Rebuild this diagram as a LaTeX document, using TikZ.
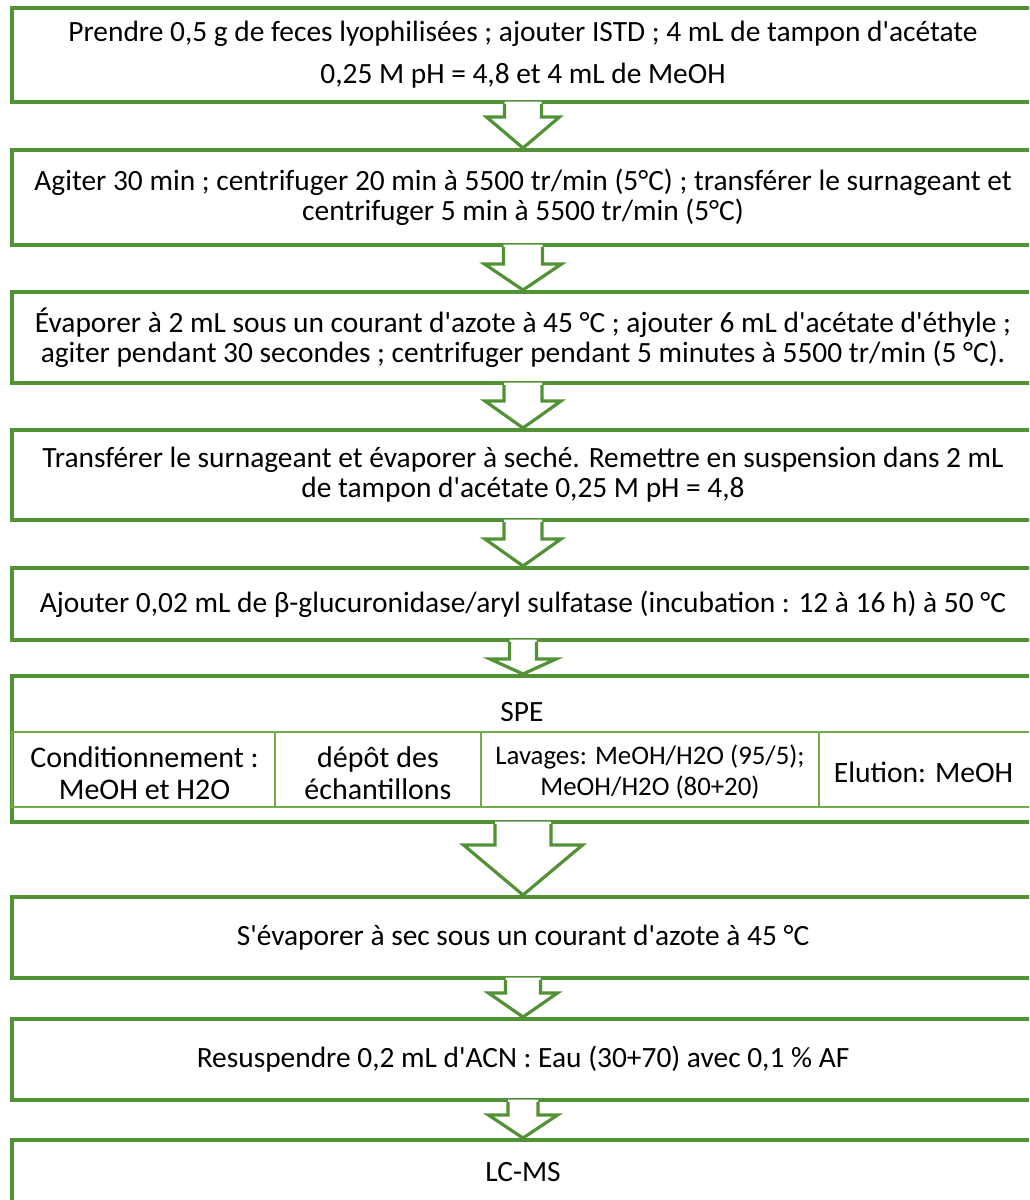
\documentclass[tikz,border=0pt]{standalone}
\usepackage{fontspec}
\setmainfont{Carlito}[Ligatures=TeXOff]
\usetikzlibrary{calc}
\definecolor{boxgreen}{RGB}{82,146,54}
\definecolor{cellgreen}{RGB}{112,173,71}
\tikzset{
  stepbox/.style={draw=boxgreen, line width=4pt, fill=white, minimum width=1022pt, inner sep=0pt, align=center, font=\fontsize{29.4}{30}\selectfont},
  cellbox/.style={draw=cellgreen, line width=2.5pt, inner sep=0pt, minimum height=75pt},
  celltext/.style={inner sep=0pt, align=center, font=\fontsize{30}{32}\selectfont},
  arrowline/.style={draw=boxgreen, line width=3.2pt, line join=miter},
  plaintext/.style={inner sep=0pt, font=\fontsize{29.4}{30}\selectfont}
}
\newcommand\flowarrow[5]{%
  \fill[white] ($(#1.south)+(-#3,-2.5)$) -- ($(#1.south)+(-#3,#5)$) -- ($(#1.south)+(-#4,#5)$) -- (#2.north) -- ($(#1.south)+(#4,#5)$) -- ($(#1.south)+(#3,#5)$) -- ($(#1.south)+(#3,-2.5)$) -- cycle;
  \draw[arrowline] ($(#1.south)+(-#3,0)$) -- ($(#1.south)+(-#3,#5)$) -- ($(#1.south)+(-#4,#5)$) -- (#2.north) -- ($(#1.south)+(#4,#5)$) -- ($(#1.south)+(#3,#5)$) -- ($(#1.south)+(#3,0)$);
}
\begin{document}
\begin{tikzpicture}[x=1pt,y=-1pt]
\useasboundingbox (0,0) rectangle (1029,1200);
\clip (0,0) rectangle (1029,1200);
\fill[white] (0,0) rectangle (1029,1200);
% steps
\node[stepbox, minimum height=94pt] (b1) at (523,55) {Prendre 0,5 g de feces lyophilisées ; ajouter ISTD ; 4 mL de tampon d'acétate\\[12pt]0,25 M pH = 4,8 et 4 mL de MeOH};
\node[stepbox, minimum height=95pt] (b2) at (523,197.5) {Agiter 30 min ; centrifuger 20 min à 5500 tr/min (5°C) ; transférer le surnageant et\\centrifuger 5 min à 5500 tr/min (5°C)};
\node[stepbox, minimum height=91pt] (b3) at (523,337.5) {Évaporer à 2 mL sous un courant d'azote à 45 °C ; ajouter 6 mL d'acétate d'éthyle ;\\agiter pendant 30 secondes ; centrifuger pendant 5 minutes à 5500 tr/min (5 °C).};
\node[stepbox, minimum height=90pt] (b4) at (523,475) {Transférer le surnageant et évaporer à seché. Remettre en suspension dans 2 mL\\de tampon d'acétate 0,25 M pH = 4,8};
\node[stepbox, minimum height=72pt] (b5) at (523,604) {Ajouter 0,02 mL de β-glucuronidase/aryl sulfatase (incubation : 12 à 16 h) à 50 °C};
\node[stepbox, minimum height=146pt] (b6) at (523,749) {};
\node[plaintext] (spe) at (522,712) {SPE};
\node[cellbox, minimum width=263pt] (c1) at (143.5,769.5) {};
\node[cellbox, minimum width=206pt] (c2) at (378,769.5) {};
\node[cellbox, minimum width=338pt] (c3) at (650,769.5) {};
\node[cellbox, minimum width=215pt] (c4) at (926.5,769.5) {};
\node[celltext] (t1) at ($(c1.center)+(1,4)$) {Conditionnement :\\MeOH et H2O};
\node[celltext] (t2) at ($(c2.center)+(0,4)$) {dépôt des\\échantillons};
\node[celltext, font=\fontsize{26.8}{31}\selectfont] (t3) at ($(c3.center)+(0,3)$) {Lavages: MeOH/H2O (95/5);\\MeOH/H2O (80+20)};
\node[celltext, font=\fontsize{29.6}{32}\selectfont] (t4) at ($(c4.center)+(-3,3)$) {Elution: MeOH};
\node[stepbox, minimum height=81pt] (b7) at (523,937.5) {S'évaporer à sec sous un courant d'azote à 45 °C};
\node[stepbox, minimum height=81pt] (b8) at (523,1059.5) {Resuspendre 0,2 mL d'ACN : Eau (30+70) avec 0,1 \% AF};
\node[stepbox, minimum height=64pt] (b9) at (523,1172) {LC-MS};
% arrows
\flowarrow{b1}{b2}{18.5}{36.5}{13}
\flowarrow{b2}{b3}{19.5}{38.5}{17}
\flowarrow{b3}{b4}{19}{38}{16}
\flowarrow{b4}{b5}{19}{38}{17}
\flowarrow{b5}{b6}{13.5}{33}{17}
\flowarrow{b6}{b7}{28}{59.5}{21}
\flowarrow{b7}{b8}{17.5}{34.5}{13}
\flowarrow{b8}{b9}{15}{34.5}{13}
\end{tikzpicture}
\end{document}
